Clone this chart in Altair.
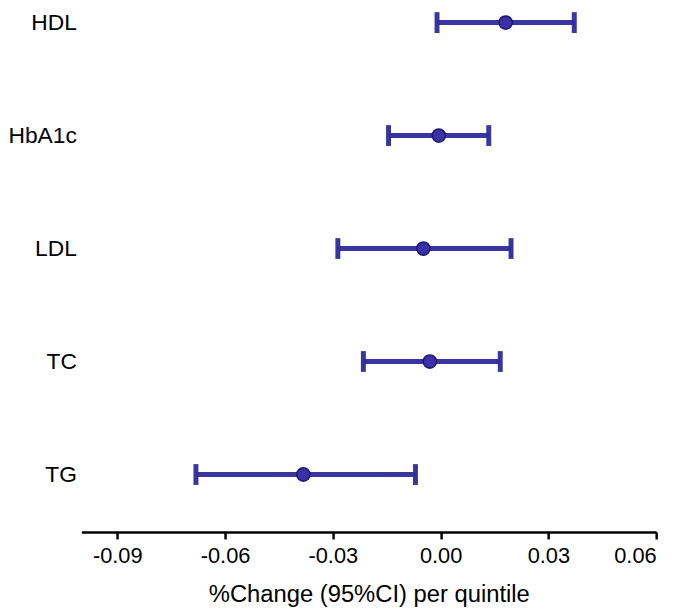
import altair as alt
import pandas as pd

labels = ["HDL", "HbA1c", "LDL", "TC", "TG"]
estimate = [0.0181, -0.0005, -0.0048, -0.0030, -0.0382]
lower = [-0.0010, -0.0145, -0.0286, -0.0215, -0.0681]
upper = [0.0372, 0.0134, 0.0196, 0.0166, -0.0070]
tick_values = [-0.09, -0.06, -0.03, 0.00, 0.03, 0.06]

df = pd.DataFrame({"label": labels, "est": estimate, "lo": lower, "hi": upper})

LINE = "#2F2B9B"
FONT = "Liberation Sans"

x_scale = alt.Scale(domain=[-0.1, 0.06], nice=False, zero=False)
y_enc = alt.Y("label:N", sort=labels,
              scale=alt.Scale(type="point", range=[12, 468], padding=0),
              axis=alt.Axis(title=None, domain=False, ticks=False, grid=False,
                            labelFontSize=23, labelFont=FONT, labelColor="black",
                            labelPadding=5))

x_axis = alt.Axis(values=tick_values, grid=False, title="%Change (95%CI) per quintile",
                  labelExpr="replace(format(datum.value, '.2f'), '\u2212', '-')",
                  labelFontSize=22, labelFont=FONT, labelColor="black", labelPadding=7,
                  titleFontSize=24, titleFont=FONT, titleFontWeight="normal",
                  titleColor="black", titlePadding=16,
                  domainColor="black", domainWidth=2.5, tickColor="black",
                  tickWidth=2.5, tickSize=7)

base = alt.Chart(df)

rule = base.mark_rule(color=LINE, strokeWidth=5, opacity=0.95).encode(
    x=alt.X("lo:Q", scale=x_scale, axis=x_axis), x2="hi:Q", y=y_enc)
cap_lo = base.mark_tick(color=LINE, thickness=5, size=21, opacity=0.95).encode(
    x=alt.X("lo:Q", scale=x_scale), y=y_enc)
cap_hi = base.mark_tick(color=LINE, thickness=5, size=21, opacity=0.95).encode(
    x=alt.X("hi:Q", scale=x_scale), y=y_enc)
pts = base.mark_point(shape="circle", filled=True, size=180, fill="#3B30A5",
                      stroke="#1B1770", strokeWidth=1.5, opacity=1).encode(
    x=alt.X("est:Q", scale=x_scale), y=y_enc)

chart = alt.layer(rule, cap_lo, cap_hi, pts).properties(
    width=580, height=526,
    autosize=alt.AutoSizeParams(type="none"),
    padding={"left": 74, "top": 0, "right": 21, "bottom": 76},
).configure(background="white").configure_view(stroke=None, strokeWidth=0)

chart.save("out.html", embed_options={"renderer": "svg", "actions": False})
